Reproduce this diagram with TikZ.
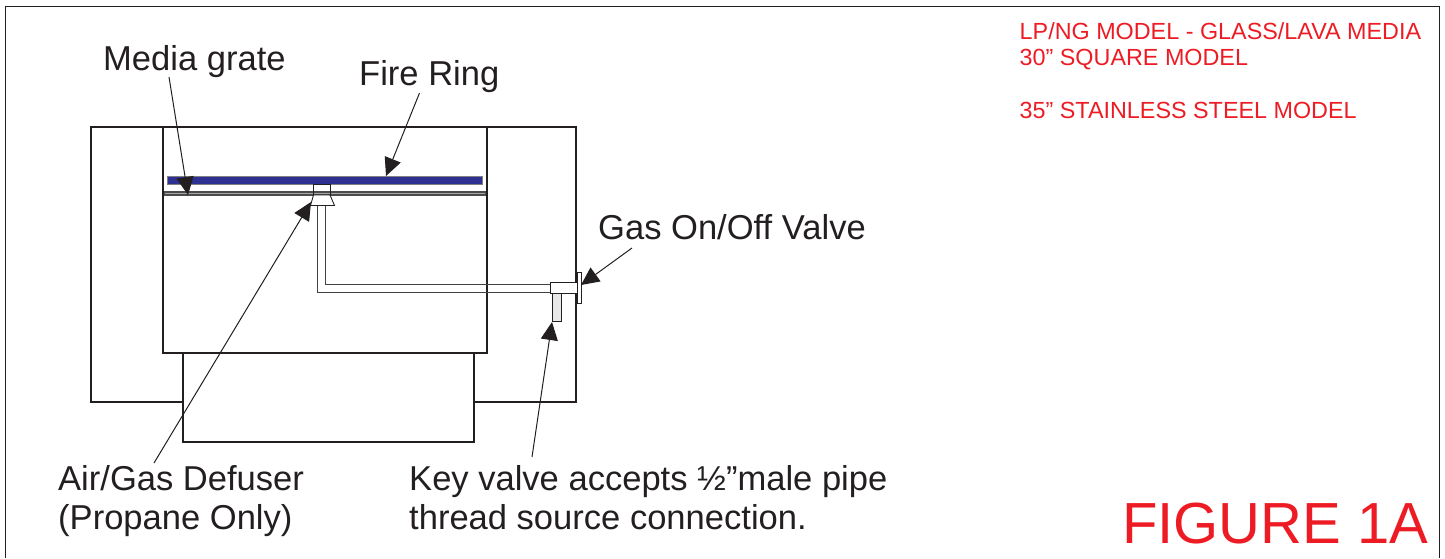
\documentclass[tikz,border=0pt]{standalone}
\usepackage{fontspec}
\setmainfont{Liberation Sans}
\usetikzlibrary{arrows.meta}
\definecolor{ink}{HTML}{231F20}
\definecolor{figred}{HTML}{ED1C24}
\definecolor{ringblue}{HTML}{2E3192}
\tikzset{
  box/.style={anchor=north west,inner sep=0pt,outer sep=0pt},
  body/.style={box,draw=ink,line width=2.8pt,fill=white},
  part/.style={draw=ink,line width=.9pt,fill=white},
  label/.style={font=\fontsize{34.55}{39}\selectfont,text=ink,inner sep=0pt,anchor=base west},
  redlabel/.style={font=\fontsize{23.35}{26}\selectfont,text=figred,inner sep=0pt,anchor=base west},
  callout/.style={draw=ink,line width=1pt,-{Triangle[length=18pt,width=17pt]}},
}
\begin{document}
\begin{tikzpicture}[x=1pt,y=-1pt]
\useasboundingbox (0,0) rectangle (1445,558);
\draw[draw=ink,line width=1.2pt] (5.5,558) -- (5.5,6.5) -- (1439.5,6.5) -- (1439.5,558);
% bodies
\node[body,minimum width=485pt,minimum height=275pt] (outer) at (91,127) {};
\node[body,minimum width=291pt,minimum height=89pt] (base) at (183,353) {};
\node[body,minimum width=324pt,minimum height=226pt] (inner) at (163,127) {};
% grate, defuser and ring
\draw[part] (313.5,184.5) rectangle (330,195);
\draw[draw=gray!60!black,line width=1.6pt,fill=gray!70] (164.5,192.2) rectangle (485.5,195);
\node[box,draw=gray,line width=.6pt,fill=ringblue,minimum width=315pt,minimum height=8.4pt] (ring) at (167,176) {};
\draw[draw=ink,line width=.9pt] (313.5,184.5) rectangle (330,195);
\draw[part,line join=miter] (313.5,195) -- (330,195) -- (334.5,205.5) -- (310.5,205.5) -- cycle;
% pipe
\draw[draw=ink!85,line width=1pt] (317,205.5) -- (317,292) -- (551,292);
\draw[draw=ink!85,line width=1pt] (325.5,205.5) -- (325.5,284) -- (551,284);
% valve
\node[box,draw=ink,line width=.9pt,fill=gray!18,minimum width=8.5pt,minimum height=28pt] (stub) at (552.5,293) {};
\node[box,draw=ink,line width=1pt,fill=white,minimum width=27pt,minimum height=11pt] (valve) at (550,282.5) {};
\node[box,draw=ink,line width=.9pt,fill=white,minimum width=4pt,minimum height=31pt] (flange) at (577,272) {};
% labels
\node[label] (lgrate) at (103,70) {Media grate};
\node[label] (lring) at (359,85) {Fire Ring};
\node[label] (lvalve) at (598,239) {Gas On/Off Valve};
\node[label] (ldef) at (58,490) {Air/Gas Defuser};
\node[label] (lprop) at (58,529) {(Propane Only)};
\node[label] (lkey) at (409,490) {Key valve accepts ½”male pipe};
\node[label] (lthread) at (409,529) {thread source connection.};
\node[redlabel] (r1) at (1019.5,39) {LP/NG MODEL - GLASS/LAVA MEDIA};
\node[redlabel] (r2) at (1019.5,65) {30” SQUARE MODEL};
\node[redlabel] (r3) at (1019.5,118) {35” STAINLESS STEEL MODEL};
\node[font=\fontsize{58}{60}\selectfont,text=figred,inner sep=0pt,anchor=base west] (fig) at (1122,543) {FIGURE 1A};
% callouts
\coordinate (tgrate) at (188,195);
\coordinate (tring) at (386,176);
\coordinate (tdef) at (311,202);
\coordinate (tvalve) at (581,285);
\coordinate (tkey) at (552,322);
\coordinate (sgrate) at (169,77);
\coordinate (sring) at (419.5,93);
\coordinate (sdef) at (154,463);
\coordinate (svalve) at (632,248);
\coordinate (skey) at (532,457);
\draw[callout] (sgrate) -- (tgrate);
\draw[callout] (sring) -- (tring);
\draw[callout] (sdef) -- (tdef);
\draw[callout] (svalve) -- (tvalve);
\draw[callout] (skey) -- (tkey);
\end{tikzpicture}
\end{document}
